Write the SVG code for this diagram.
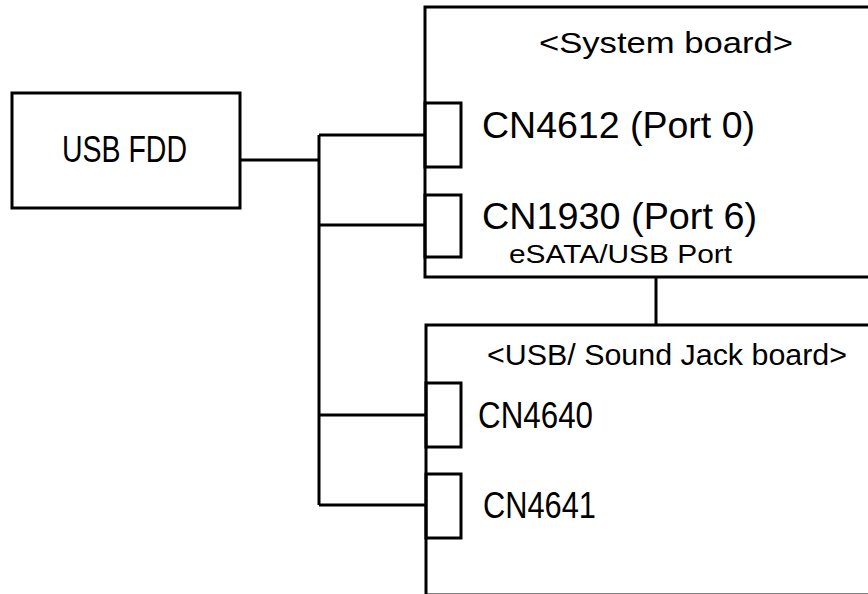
<svg xmlns="http://www.w3.org/2000/svg" width="868" height="594" viewBox="0 0 868 594">
<style>
.box{fill:none;stroke:#000;stroke-width:3}
.ln{fill:none;stroke:#000;stroke-width:3}
text{font-family:"Liberation Sans","DejaVu Sans",sans-serif;fill:#000}
.big{font-size:36px}
.mid{font-size:30px}
.sm{font-size:26px}
</style>
<rect width="868" height="594" fill="#fff"/>
<g id="usb-fdd">
<rect class="box" x="12" y="93" width="228" height="115"/>
<text class="big" x="62" y="162" textLength="125" lengthAdjust="spacingAndGlyphs">USB FDD</text>
</g>
<g id="system-board">
<rect class="box" x="425" y="7" width="460" height="270"/>
<text class="mid" x="539" y="53" textLength="254" lengthAdjust="spacingAndGlyphs">&lt;System board&gt;</text>
</g>
<g id="cn4612">
<rect class="box" x="425" y="103" width="36" height="64"/>
<text class="big" x="482" y="138" textLength="273" lengthAdjust="spacingAndGlyphs">CN4612 (Port 0)</text>
</g>
<g id="cn1930">
<rect class="box" x="425" y="195" width="36" height="62"/>
<text class="big" x="482" y="229" textLength="275" lengthAdjust="spacingAndGlyphs">CN1930 (Port 6)</text>
<text class="sm" x="509" y="263" textLength="223" lengthAdjust="spacingAndGlyphs">eSATA/USB Port</text>
</g>
<g id="sound-board">
<rect class="box" x="426" y="325" width="460" height="270"/>
<text class="mid" x="487" y="365" textLength="360" lengthAdjust="spacingAndGlyphs">&lt;USB/ Sound Jack board&gt;</text>
</g>
<g id="cn4640">
<rect class="box" x="426" y="383" width="35" height="64"/>
<text class="big" x="478" y="428" textLength="115" lengthAdjust="spacingAndGlyphs">CN4640</text>
</g>
<g id="cn4641">
<rect class="box" x="426" y="474" width="35" height="64"/>
<text class="big" x="483" y="518" textLength="113" lengthAdjust="spacingAndGlyphs">CN4641</text>
</g>
<g id="connectors">
<path class="ln" d="M240 160 H319"/>
<path class="ln" d="M319 135 V505"/>
<path class="ln" d="M319 135 H425"/>
<path class="ln" d="M319 225 H425"/>
<path class="ln" d="M319 415 H426"/>
<path class="ln" d="M319 505 H426"/>
<path class="ln" d="M656 277 V325"/>
</g>
</svg>
